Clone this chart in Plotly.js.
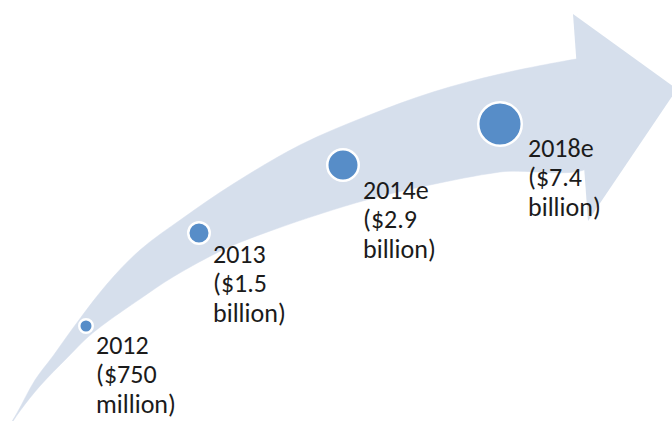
<!DOCTYPE html>
<html>
<head>
<meta charset="utf-8">
<script src="https://cdn.plot.ly/plotly-3.0.1.min.js"></script>
<style>
  html, body { margin: 0; padding: 0; background: #ffffff; }
  #chart { width: 672px; height: 421px; }
</style>
</head>
<body>
<div id="chart"></div>
<script>
// ---- Data ----
const years = ['2012', '2013', '2014e', '2018e'];
const revenueBn = [0.75, 1.5, 2.9, 7.4];          // market size, $ billion
// point positions along the arrow (chart units, y measured downward)
const pointX = [86, 199, 343, 500];
const pointY = [326, 233, 165, 124];

// arrow shaft: upper edge (tail -> head) and lower edge (tail -> head)
const upperX = [2, 17, 35, 53, 73, 107, 140, 183, 233, 300, 367, 433, 500, 576, 596];
const upperY = [438, 413, 380, 356, 328, 284, 250, 218, 184, 145, 116, 92, 74, 59, 56];
const lowerX = [2, 20, 40, 67, 88, 107, 140, 173, 227, 273, 320, 370, 430, 500, 596];
const lowerY = [438, 411, 386, 358, 337, 322, 299, 277, 248, 230, 214, 199, 185, 172, 163];
// arrow head outline: top barb, tip, bottom barb
const headX = [573, 677, 588];
const headY = [14, 89, 221];

// ---- Styles / layout ----
const arrowColor = '#d6dfec';
const dotColor = '#578dc8';
const markerSizes = [13.5, 21.5, 31.5, 43.5];
const labelShiftX = [7.5, 12, 17.5, 25.5];
const labelShiftY = [18.5, 20.5, 24.5, 23.5];
const textColor = '#1b1b1b';
const fontFamily = 'Carlito, Lato, "Open Sans", sans-serif';
const fontSize = 26;
const lineGap = 29.5;

function amountLines(v) {
  if (v < 1) return ['($' + Math.round(v * 1000), 'million)'];
  return ['($' + v, 'billion)'];
}

// closed outline of the shaft: along the upper edge, back along the lower edge
const shaftX = upperX.concat(lowerX.slice().reverse());
const shaftY = upperY.concat(lowerY.slice().reverse());

const traces = [
  {
    type: 'scatter', mode: 'lines',
    x: shaftX, y: shaftY,
    fill: 'toself', fillcolor: arrowColor,
    line: { width: 0.5, color: arrowColor, shape: 'spline', smoothing: 1 },
    hoverinfo: 'skip', showlegend: false
  },
  {
    type: 'scatter', mode: 'lines',
    x: headX, y: headY,
    fill: 'toself', fillcolor: arrowColor,
    line: { width: 0, color: arrowColor },
    hoverinfo: 'skip', showlegend: false
  },
  {
    type: 'scatter', mode: 'markers',
    x: pointX, y: pointY,
    text: years,
    marker: { color: dotColor, opacity: 1, size: markerSizes, line: { color: '#ffffff', width: 2.5 } },
    hoverinfo: 'text', showlegend: false
  }
];

const annotations = [];
years.forEach((yr, i) => {
  const lines = [yr].concat(amountLines(revenueBn[i]));
  lines.forEach((t, j) => {
    annotations.push({
      x: pointX[i], y: pointY[i], xref: 'x', yref: 'y',
      text: t, showarrow: false,
      xanchor: 'left', yanchor: 'middle',
      xshift: labelShiftX[i], yshift: -(labelShiftY[i] + j * lineGap),
      font: { family: fontFamily, size: fontSize, color: textColor }
    });
  });
});

const layout = {
  width: 672, height: 421,
  margin: { l: 0, r: 0, t: 0, b: 0, pad: 0 },
  paper_bgcolor: '#ffffff', plot_bgcolor: '#ffffff',
  xaxis: { range: [0, 672], visible: false, fixedrange: true },
  yaxis: { range: [421, 0], visible: false, fixedrange: true },
  annotations: annotations,
  showlegend: false
};

Plotly.newPlot('chart', traces, layout, { displayModeBar: false, staticPlot: true });
</script>
</body>
</html>
